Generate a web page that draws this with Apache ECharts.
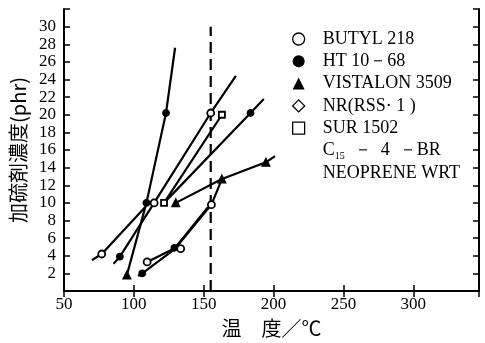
<!DOCTYPE html>
<html>
<head>
<meta charset="utf-8">
<script src="https://cdn.jsdelivr.net/npm/echarts@6/dist/echarts.min.js"></script>
<style>
  html, body { margin: 0; padding: 0; background: #fff; }
  #main { width: 485px; height: 343px; }
</style>
</head>
<body>
<div id="main"></div>
<script>
// 各曲線の折れ点（温度 ℃, 加硫剤濃度 phr）
var lineSteep = [[95, 1.8], [109, 10], [123, 20.2], [129.5, 27.6]];
var lineButyl = [[70, 3.5], [77, 4.2], [108, 9.5]];
var lineUpper = [[85.5, 3.1], [90, 3.9], [114.5, 10], [155, 20.2], [173, 24.4]];
var lineSur = [[121.6, 10], [163, 20]];
var lineHt = [[121.6, 10], [183.5, 20.2], [193, 21.8]];
var lineVist = [[130, 10], [163, 12.7], [194.5, 14.6], [201, 15.3]];
var lineLowA = [[109.5, 3.3], [130, 4.9], [155.5, 9.8], [163, 12.7]];
var lineLowB = [[103, 1.7], [106, 2], [128, 4.6], [153, 9.5]];
var dashLine = [[155, 0], [155, 30]];

// 記号の位置
var ptsOpenCircle = [[77, 4.2], [114.5, 10], [155, 20.2], [109.5, 3.3], [133.5, 4.8], [155.5, 9.8]];
var ptsDot = [[109, 10], [123, 20.2], [183.5, 20.2], [90, 3.9], [106, 2], [129, 4.9]];
var ptsTriangle = [[95, 1.8], [130, 10], [163, 12.7], [194.5, 14.6]];
var ptsSquare = [[121.6, 10], [163, 20]];

var legendNames = ['BUTYL 218', 'HT 10－68', 'VISTALON 3509', 'NR(RSS· 1 )', 'SUR 1502', 'C15-4-BR', 'NEOPRENE WRT'];

var chart = echarts.init(document.getElementById('main'));
var serif = 'Liberation Serif';

function line(name, data, dashed) {
  return {
    name: name, type: 'line', data: data, symbol: 'none', silent: true,
    lineStyle: { color: '#000', width: 2.2, type: dashed ? [11, 6] : 'solid' }
  };
}
function marks(name, data, symbol, filled, size) {
  return {
    name: name, type: 'scatter', data: data, symbol: symbol, symbolSize: size,
    itemStyle: { color: filled ? '#000' : '#fff', borderColor: '#000', borderWidth: 1.8, opacity: 1 },
    z: 5
  };
}

var tickStyle = { show: true, inside: true, length: 6, lineStyle: { color: '#000', width: 1.5 } };
var lineAx = { show: true, lineStyle: { color: '#000', width: 2 } };

var option = {
  animation: false,
  grid: { left: 64, right: 6, top: 9, bottom: 50 },
  legend: {
    orient: 'vertical',
    left: 287, top: 23,
    itemWidth: 12, itemHeight: 12, itemGap: 0.3,
    selectedMode: false,
    textStyle: {
      fontFamily: serif, fontSize: 18, color: '#000', lineHeight: 22,
      rich: {
        n: { fontFamily: serif, fontSize: 18, color: '#000', padding: [0, 0, 0, 13] },
        m: { fontFamily: serif, fontSize: 18, color: '#000' },
        s: { fontFamily: serif, fontSize: 10, color: '#000', verticalAlign: 'bottom', padding: [8, 0, 0, 0] }
      }
    },
    formatter: function (name) {
      if (name === 'C15-4-BR') return '{n|C}{s|15}{m|  －  4  －BR}';
      return '{n|' + name + '}';
    },
    data: [
      { name: legendNames[0], icon: 'circle', itemStyle: { color: '#fff', borderColor: '#000', borderWidth: 1.3 } },
      { name: legendNames[1], icon: 'circle', itemStyle: { color: '#000' } },
      { name: legendNames[2], icon: 'triangle', itemStyle: { color: '#000' } },
      { name: legendNames[3], icon: 'diamond', itemStyle: { color: '#fff', borderColor: '#000', borderWidth: 1.3 } },
      { name: legendNames[4], icon: 'rect', itemStyle: { color: '#fff', borderColor: '#000', borderWidth: 1.3 } },
      { name: legendNames[5], icon: 'none' },
      { name: legendNames[6], icon: 'none' }
    ]
  },
  xAxis: [{
    type: 'value', min: 50, max: 347, interval: 50, position: 'bottom',
    axisLine: lineAx, axisTick: tickStyle, splitLine: { show: false },
    axisLabel: { fontFamily: serif, fontSize: 17, color: '#000', margin: 5, showMaxLabel: false },
    name: '温　度／℃', nameLocation: 'middle', nameGap: 27,
    nameTextStyle: { fontFamily: 'Noto Sans CJK JP', fontSize: 20, color: '#000' }
  }, {
    type: 'value', min: 50, max: 347, interval: 50, position: 'top',
    axisLine: lineAx, axisTick: tickStyle, splitLine: { show: false },
    axisLabel: { show: false }
  }],
  yAxis: [{
    type: 'value', min: 0, max: 32, interval: 2, position: 'left',
    axisLine: lineAx, axisTick: tickStyle, splitLine: { show: false },
    axisLabel: {
      fontFamily: serif, fontSize: 17, color: '#000', margin: 8,
      formatter: function (v) { return (v === 0 || v > 30) ? '' : v; }
    },
    name: '加硫剤濃度(phr)', nameLocation: 'middle', nameGap: 36, nameRotate: 90,
    nameTextStyle: { fontFamily: 'Noto Sans CJK JP', fontSize: 20, color: '#000' }
  }, {
    type: 'value', min: 0, max: 32, interval: 2, position: 'right',
    axisLine: lineAx, axisTick: tickStyle, splitLine: { show: false },
    axisLabel: { show: false }
  }],
  series: [
    line('HT 10－68', lineSteep),
    line('BUTYL 218', lineButyl),
    line('C15-4-BR', lineUpper),
    line('SUR 1502', lineSur),
    line('HT 10－68', lineHt),
    line('VISTALON 3509', lineVist),
    line('BUTYL 218', lineLowA),
    line('NEOPRENE WRT', lineLowB),
    line('NR(RSS· 1 )', dashLine, true),
    marks('BUTYL 218', ptsOpenCircle, 'circle', false, 7),
    marks('HT 10－68', ptsDot, 'circle', true, 6),
    marks('VISTALON 3509', ptsTriangle, 'triangle', true, 7),
    marks('SUR 1502', ptsSquare, 'rect', false, 6)
  ]
};

chart.setOption(option);
</script>
</body>
</html>
